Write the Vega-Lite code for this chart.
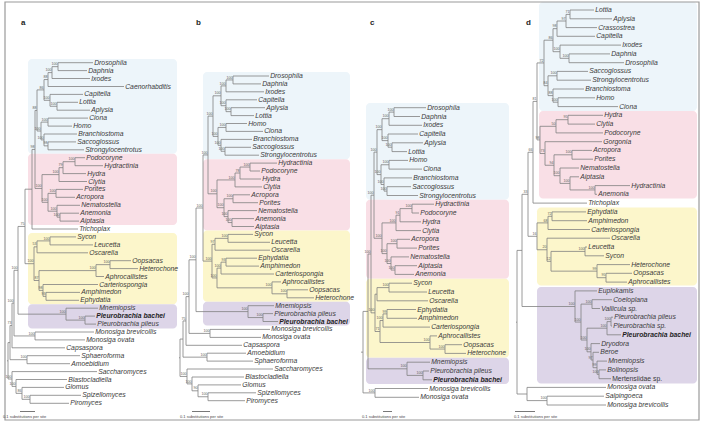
{
"$schema": "https://vega.github.io/schema/vega-lite/v6.json",
"width": 701, "height": 426,
"autosize": {"type": "fit", "contains": "padding"},
"padding": 0,
"background": "white",
"config": {"view": {"stroke": null}, "text": {"font": "Liberation Sans"}},
"datasets": {
"boxes": [
{"x":28,"x2":177,"y":59,"y2":153.7,"c":"Bilateria"},
{"x":28,"x2":177,"y":153.7,"y2":225,"c":"Cnidaria"},
{"x":28,"x2":177,"y":233,"y2":304.2,"c":"Porifera"},
{"x":28,"x2":177,"y":304.2,"y2":328.5,"c":"Ctenophora"},
{"x":203,"x2":350,"y":72,"y2":159.2,"c":"Bilateria"},
{"x":203,"x2":350,"y":159.2,"y2":230.5,"c":"Cnidaria"},
{"x":203,"x2":350,"y":230.5,"y2":301.7,"c":"Porifera"},
{"x":203,"x2":350,"y":301.7,"y2":325.5,"c":"Ctenophora"},
{"x":366,"x2":509,"y":103,"y2":199.8,"c":"Bilateria"},
{"x":366,"x2":509,"y":199.8,"y2":278.8,"c":"Cnidaria"},
{"x":366,"x2":509,"y":278.8,"y2":357.8,"c":"Porifera"},
{"x":366,"x2":509,"y":357.8,"y2":384,"c":"Ctenophora"},
{"x":539,"x2":697,"y":2,"y2":110.9,"c":"Bilateria"},
{"x":539,"x2":697,"y":110.9,"y2":198.5,"c":"Cnidaria"},
{"x":537,"x2":697,"y":207.5,"y2":285.5,"c":"Porifera"},
{"x":537,"x2":697,"y":287,"y2":383.5,"c":"Ctenophora"}
],
"leaves": [
{"n":"Drosophila","y":62.7,"t":93,"p":58},
{"n":"Daphnia","y":70.6,"t":87,"p":58},
{"n":"Ixodes","y":78.5,"t":90,"p":52},
{"n":"Caenorhabditis","y":86.5,"t":124,"p":48},
{"n":"Capitella","y":94.4,"t":83,"p":50},
{"n":"Lottia","y":102.3,"t":78,"p":57},
{"n":"Aplysia","y":110.2,"t":90,"p":57},
{"n":"Ciona","y":118.1,"t":88,"p":48},
{"n":"Homo","y":126.1,"t":72,"p":48},
{"n":"Branchiostoma","y":134.0,"t":77,"p":44},
{"n":"Saccoglossus","y":141.9,"t":76,"p":48},
{"n":"Strongylocentrotus","y":149.8,"t":84,"p":48},
{"n":"Podocoryne","y":157.7,"t":85,"p":75},
{"n":"Hydractinia","y":165.7,"t":103,"p":75},
{"n":"Hydra","y":173.6,"t":86,"p":63},
{"n":"Clytia","y":181.5,"t":87,"p":59},
{"n":"Porites","y":189.4,"t":83,"p":56},
{"n":"Acropora","y":197.3,"t":75,"p":56},
{"n":"Nematostella","y":205.3,"t":80,"p":57},
{"n":"Anemonia","y":213.2,"t":79,"p":60},
{"n":"Aiptasia","y":221.1,"t":79,"p":60},
{"n":"Trichoplax","y":229.0,"t":78,"p":32},
{"n":"Sycon","y":236.9,"t":76,"p":50},
{"n":"Leucetta","y":244.9,"t":93,"p":50},
{"n":"Oscarella","y":252.8,"t":88,"p":37},
{"n":"Oopsacas","y":260.7,"t":131,"p":110},
{"n":"Heterochone","y":268.6,"t":138,"p":110},
{"n":"Aphrocallistes","y":276.5,"t":104,"p":96},
{"n":"Carteriospongia","y":284.5,"t":98,"p":43},
{"n":"Amphimedon","y":292.4,"t":80,"p":46},
{"n":"Ephydatia","y":300.3,"t":79,"p":46},
{"n":"Mnemiopsis","y":308.2,"t":98,"p":66},
{"n":"Pleurobrachia bachei","y":316.1,"t":95,"p":85,"s":"b"},
{"n":"Pleurobrachia pileus","y":324.1,"t":96,"p":85},
{"n":"Monosiga brevicollis","y":332.0,"t":94,"p":35},
{"n":"Monosiga ovata","y":339.9,"t":85,"p":35},
{"n":"Capsaspora","y":347.8,"t":65,"p":12},
{"n":"Sphaeroforma","y":355.7,"t":80,"p":27},
{"n":"Amoebidium","y":363.7,"t":70,"p":27},
{"n":"Saccharomyces","y":371.6,"t":97,"p":12},
{"n":"Blastocladiella","y":379.5,"t":67,"p":16},
{"n":"Glomus","y":387.4,"t":64,"p":22},
{"n":"Spizellomyces","y":395.3,"t":81,"p":30},
{"n":"Piromyces","y":403.3,"t":69,"p":30},
{"n":"Drosophila","y":76.0,"t":269,"p":233},
{"n":"Daphnia","y":83.9,"t":261,"p":233},
{"n":"Ixodes","y":91.8,"t":264,"p":226},
{"n":"Capitella","y":99.8,"t":257,"p":226},
{"n":"Aplysia","y":107.7,"t":265,"p":231},
{"n":"Lottia","y":115.6,"t":254,"p":231},
{"n":"Homo","y":123.5,"t":247,"p":226},
{"n":"Ciona","y":131.4,"t":263,"p":226},
{"n":"Branchiostoma","y":139.4,"t":252,"p":221},
{"n":"Saccoglossus","y":147.3,"t":251,"p":225},
{"n":"Strongylocentrotus","y":155.2,"t":259,"p":225},
{"n":"Hydractinia","y":163.1,"t":277,"p":250},
{"n":"Podocoryne","y":171.0,"t":260,"p":250},
{"n":"Hydra","y":179.0,"t":261,"p":240},
{"n":"Clytia","y":186.9,"t":262,"p":235},
{"n":"Acropora","y":194.8,"t":250,"p":233},
{"n":"Porites","y":202.7,"t":258,"p":233},
{"n":"Nematostella","y":210.6,"t":257,"p":228},
{"n":"Anemonia","y":218.6,"t":254,"p":232},
{"n":"Aiptasia","y":226.5,"t":254,"p":232},
{"n":"Sycon","y":234.4,"t":253,"p":228},
{"n":"Leucetta","y":242.3,"t":270,"p":228},
{"n":"Oscarella","y":250.2,"t":270,"p":215},
{"n":"Ephydatia","y":258.2,"t":257,"p":226},
{"n":"Amphimedon","y":266.1,"t":259,"p":226},
{"n":"Carteriospongia","y":274.0,"t":274,"p":221},
{"n":"Aphrocallistes","y":281.9,"t":281,"p":272},
{"n":"Oopsacas","y":289.8,"t":308,"p":287},
{"n":"Heterochone","y":297.8,"t":314,"p":287},
{"n":"Mnemiopsis","y":305.7,"t":274,"p":248},
{"n":"Pleurobrachia pileus","y":313.6,"t":273,"p":263},
{"n":"Pleurobrachia bachei","y":321.5,"t":278,"p":263,"s":"b"},
{"n":"Monosiga brevicollis","y":329.4,"t":270,"p":210},
{"n":"Monosiga ovata","y":337.4,"t":261,"p":210},
{"n":"Capsaspora","y":345.3,"t":242,"p":186},
{"n":"Amoebidium","y":353.2,"t":246,"p":207},
{"n":"Sphaeroforma","y":361.1,"t":253,"p":207},
{"n":"Saccharomyces","y":369.0,"t":273,"p":187},
{"n":"Blastocladiella","y":377.0,"t":244,"p":192},
{"n":"Glomus","y":384.9,"t":241,"p":198},
{"n":"Spizellomyces","y":392.8,"t":256,"p":208},
{"n":"Piromyces","y":400.7,"t":245,"p":208},
{"n":"Drosophila","y":107.7,"t":426,"p":394},
{"n":"Daphnia","y":116.5,"t":420,"p":394},
{"n":"Ixodes","y":125.3,"t":422,"p":389},
{"n":"Capitella","y":134.0,"t":418,"p":388},
{"n":"Aplysia","y":142.8,"t":423,"p":392},
{"n":"Lottia","y":151.6,"t":407,"p":392},
{"n":"Homo","y":160.4,"t":408,"p":389},
{"n":"Ciona","y":169.1,"t":422,"p":389},
{"n":"Branchiostoma","y":177.9,"t":412,"p":384},
{"n":"Saccoglossus","y":186.7,"t":411,"p":387},
{"n":"Strongylocentrotus","y":195.5,"t":418,"p":387},
{"n":"Hydractinia","y":204.2,"t":434,"p":412},
{"n":"Podocoryne","y":213.0,"t":419,"p":412},
{"n":"Hydra","y":221.8,"t":421,"p":400},
{"n":"Clytia","y":230.6,"t":421,"p":396},
{"n":"Acropora","y":239.3,"t":410,"p":397},
{"n":"Porites","y":248.1,"t":417,"p":397},
{"n":"Nematostella","y":256.9,"t":409,"p":391},
{"n":"Aiptasia","y":265.7,"t":417,"p":395},
{"n":"Anemonia","y":274.4,"t":414,"p":395},
{"n":"Sycon","y":283.2,"t":412,"p":389},
{"n":"Leucetta","y":292.0,"t":427,"p":389},
{"n":"Oscarella","y":300.8,"t":428,"p":377},
{"n":"Ephydatia","y":309.5,"t":416,"p":387},
{"n":"Amphimedon","y":318.3,"t":417,"p":387},
{"n":"Carteriospongia","y":327.1,"t":430,"p":383},
{"n":"Aphrocallistes","y":335.9,"t":437,"p":430},
{"n":"Oopsacas","y":344.7,"t":462,"p":445},
{"n":"Heterochone","y":353.4,"t":466,"p":445},
{"n":"Mnemiopsis","y":362.2,"t":430,"p":407},
{"n":"Pleurobrachia pileus","y":371.0,"t":429,"p":423},
{"n":"Pleurobrachia bachei","y":379.8,"t":432,"p":423,"s":"b"},
{"n":"Monosiga brevicollis","y":388.5,"t":428,"p":375},
{"n":"Monosiga ovata","y":397.3,"t":419,"p":375},
{"n":"Lottia","y":10.0,"t":594,"p":570},
{"n":"Aplysia","y":18.8,"t":612,"p":570},
{"n":"Crassostrea","y":27.6,"t":597,"p":566},
{"n":"Capitella","y":36.3,"t":595,"p":557},
{"n":"Ixodes","y":45.1,"t":621,"p":560},
{"n":"Daphnia","y":53.9,"t":610,"p":569},
{"n":"Drosophila","y":62.7,"t":624,"p":569},
{"n":"Saccoglossus","y":71.4,"t":588,"p":557},
{"n":"Strongylocentrotus","y":80.2,"t":591,"p":557},
{"n":"Branchiostoma","y":89.0,"t":584,"p":553},
{"n":"Homo","y":97.8,"t":595,"p":558},
{"n":"Ciona","y":106.6,"t":618,"p":558},
{"n":"Hydra","y":115.3,"t":603,"p":568},
{"n":"Clytia","y":124.1,"t":595,"p":568},
{"n":"Podocoryne","y":132.9,"t":603,"p":556},
{"n":"Gorgonia","y":141.7,"t":602,"p":545},
{"n":"Acropora","y":150.4,"t":592,"p":572},
{"n":"Porites","y":159.2,"t":593,"p":572},
{"n":"Nematostella","y":168.0,"t":579,"p":560},
{"n":"Aiptasia","y":176.8,"t":579,"p":570},
{"n":"Hydractinia","y":185.6,"t":630,"p":595},
{"n":"Anemonia","y":194.3,"t":597,"p":595},
{"n":"Trichoplax","y":203.1,"t":587,"p":533},
{"n":"Ephydatia","y":211.9,"t":586,"p":552},
{"n":"Amphimedon","y":220.7,"t":587,"p":552},
{"n":"Carteriospongia","y":229.5,"t":590,"p":548},
{"n":"Oscarella","y":238.2,"t":610,"p":547},
{"n":"Leucetta","y":247.0,"t":587,"p":585},
{"n":"Sycon","y":255.8,"t":604,"p":585},
{"n":"Heterochone","y":264.6,"t":630,"p":597},
{"n":"Oopsacas","y":273.3,"t":632,"p":606},
{"n":"Aphrocallistes","y":282.1,"t":627,"p":606},
{"n":"Euplokamis","y":290.9,"t":597,"p":575},
{"n":"Coeloplana","y":299.7,"t":612,"p":592},
{"n":"Vallicula sp.","y":308.5,"t":600,"p":592},
{"n":"Pleurobrachia pileus","y":317.2,"t":613,"p":611},
{"n":"Pleurobrachia sp.","y":326.0,"t":612,"p":611},
{"n":"Pleurobrachia bachei","y":334.8,"t":621,"p":607,"s":"b"},
{"n":"Dryodora","y":343.6,"t":600,"p":591},
{"n":"Beroe","y":352.3,"t":599,"p":593},
{"n":"Mnemiopsis","y":361.1,"t":607,"p":597},
{"n":"Bolinopsis","y":369.9,"t":606,"p":599},
{"n":"Mertensiidae sp.","y":378.7,"t":611,"p":599,"s":"n"},
{"n":"Monosiga ovata","y":387.4,"t":606,"p":527},
{"n":"Salpingoeca","y":396.2,"t":604,"p":547},
{"n":"Monosiga brevicollis","y":405.0,"t":606,"p":547}
],
"nodes": [
{"x":58,"y":66.65,"p":52,"a":62.7,"z":70.6,"b":"100"},
{"x":52,"y":72.6,"p":48,"a":66.65,"z":78.5,"b":"100"},
{"x":48,"y":79.55,"p":44,"a":72.6,"z":86.5,"b":"88"},
{"x":57,"y":106.25,"p":50,"a":102.3,"z":110.2,"b":"100"},
{"x":50,"y":100.3,"p":44,"a":94.4,"z":106.25,"b":"100"},
{"x":44,"y":89.9,"p":37,"a":79.55,"z":100.3,"b":"86"},
{"x":48,"y":122.1,"p":41,"a":118.1,"z":126.1,"b":"100"},
{"x":48,"y":145.85,"p":44,"a":141.9,"z":149.8,"b":"98"},
{"x":44,"y":139.9,"p":41,"a":134.0,"z":145.85,"b":"100"},
{"x":41,"y":131.0,"p":37,"a":122.1,"z":139.9,"b":"100"},
{"x":37,"y":110.45,"p":35,"a":89.9,"z":131.0,"b":"88"},
{"x":75,"y":161.7,"p":63,"a":157.7,"z":165.7,"b":"100"},
{"x":63,"y":167.65,"p":59,"a":161.7,"z":173.6,"b":"79"},
{"x":59,"y":174.6,"p":42,"a":167.65,"z":181.5,"b":"100"},
{"x":56,"y":193.35,"p":48,"a":189.4,"z":197.3,"b":"100"},
{"x":60,"y":217.15,"p":57,"a":213.2,"z":221.1,"b":"100"},
{"x":57,"y":211.2,"p":48,"a":205.3,"z":217.15,"b":"100"},
{"x":48,"y":202.3,"p":42,"a":193.35,"z":211.2,"b":"100"},
{"x":42,"y":188.45,"p":35,"a":174.6,"z":202.3,"b":"100"},
{"x":35,"y":149.45,"p":32,"a":110.45,"z":188.45,"b":"98"},
{"x":32,"y":189.2,"p":25,"a":149.45,"z":229.0,"b":""},
{"x":50,"y":240.9,"p":37,"a":236.9,"z":244.9,"b":"100"},
{"x":37,"y":246.85,"p":34,"a":240.9,"z":252.8,"b":"53"},
{"x":110,"y":264.65,"p":96,"a":260.7,"z":268.6,"b":"100"},
{"x":96,"y":270.6,"p":39,"a":264.65,"z":276.5,"b":"100"},
{"x":46,"y":296.35,"p":43,"a":292.4,"z":300.3,"b":"93"},
{"x":43,"y":290.4,"p":39,"a":284.5,"z":296.35,"b":"98"},
{"x":39,"y":280.5,"p":34,"a":270.6,"z":290.4,"b":"87"},
{"x":34,"y":263.7,"p":25,"a":246.85,"z":280.5,"b":"100"},
{"x":25,"y":226.45,"p":18,"a":189.2,"z":263.7,"b":"75"},
{"x":85,"y":320.1,"p":66,"a":316.1,"z":324.1,"b":"100"},
{"x":66,"y":314.15,"p":18,"a":308.2,"z":320.1,"b":"100"},
{"x":18,"y":270.3,"p":14,"a":226.45,"z":314.15,"b":"100"},
{"x":35,"y":335.95,"p":14,"a":332.0,"z":339.9,"b":"100"},
{"x":14,"y":303.1,"p":12,"a":270.3,"z":335.95,"b":"100"},
{"x":12,"y":325.45,"p":10,"a":303.1,"z":347.8,"b":"73"},
{"x":27,"y":359.7,"p":10,"a":355.7,"z":363.7,"b":"100"},
{"x":10,"y":342.6,"p":8,"a":325.45,"z":359.7,"b":""},
{"x":30,"y":399.3,"p":22,"a":395.3,"z":403.3,"b":"100"},
{"x":22,"y":393.35,"p":16,"a":387.4,"z":399.3,"b":"86"},
{"x":16,"y":386.4,"p":12,"a":379.5,"z":393.35,"b":"100"},
{"x":12,"y":379.0,"p":8,"a":371.6,"z":386.4,"b":"100"},
{"x":8,"y":360.8,"p":7,"a":342.6,"z":379.0,"b":""},
{"x":233,"y":79.95,"p":226,"a":76.0,"z":83.9,"b":"100"},
{"x":226,"y":85.9,"p":221,"a":79.95,"z":91.8,"b":"100"},
{"x":231,"y":111.65,"p":226,"a":107.7,"z":115.6,"b":"100"},
{"x":226,"y":105.7,"p":221,"a":99.8,"z":111.65,"b":"100"},
{"x":221,"y":95.8,"p":213,"a":85.9,"z":105.7,"b":"100"},
{"x":226,"y":127.45,"p":218,"a":123.5,"z":131.4,"b":"100"},
{"x":225,"y":151.25,"p":221,"a":147.3,"z":155.2,"b":"100"},
{"x":221,"y":145.3,"p":218,"a":139.4,"z":151.25,"b":"100"},
{"x":218,"y":136.4,"p":213,"a":127.45,"z":145.3,"b":"100"},
{"x":213,"y":116.1,"p":208,"a":95.8,"z":136.4,"b":"100"},
{"x":250,"y":167.05,"p":240,"a":163.1,"z":171.0,"b":"100"},
{"x":240,"y":173.0,"p":235,"a":167.05,"z":179.0,"b":"78"},
{"x":235,"y":179.95,"p":217,"a":173.0,"z":186.9,"b":"100"},
{"x":233,"y":198.75,"p":224,"a":194.8,"z":202.7,"b":"100"},
{"x":232,"y":222.55,"p":228,"a":218.6,"z":226.5,"b":"100"},
{"x":228,"y":216.6,"p":224,"a":210.6,"z":222.55,"b":"100"},
{"x":224,"y":207.7,"p":217,"a":198.75,"z":216.6,"b":"100"},
{"x":217,"y":193.8,"p":208,"a":179.95,"z":207.7,"b":"100"},
{"x":208,"y":154.95,"p":203,"a":116.1,"z":193.8,"b":"100"},
{"x":228,"y":238.35,"p":215,"a":234.4,"z":242.3,"b":"100"},
{"x":215,"y":244.3,"p":212,"a":238.35,"z":250.2,"b":"97"},
{"x":226,"y":262.15,"p":221,"a":258.2,"z":266.1,"b":"93"},
{"x":221,"y":268.1,"p":217,"a":262.15,"z":274.0,"b":"100"},
{"x":287,"y":293.8,"p":272,"a":289.8,"z":297.8,"b":"100"},
{"x":272,"y":287.85,"p":217,"a":281.9,"z":293.8,"b":"100"},
{"x":217,"y":277.95,"p":212,"a":268.1,"z":287.85,"b":"100"},
{"x":212,"y":261.1,"p":203,"a":244.3,"z":277.95,"b":"100"},
{"x":203,"y":208.0,"p":196,"a":154.95,"z":261.1,"b":"100"},
{"x":263,"y":317.55,"p":248,"a":313.6,"z":321.5,"b":"100"},
{"x":248,"y":311.6,"p":196,"a":305.7,"z":317.55,"b":"100"},
{"x":196,"y":259.8,"p":189,"a":208.0,"z":311.6,"b":"100"},
{"x":210,"y":333.4,"p":189,"a":329.4,"z":337.4,"b":"100"},
{"x":189,"y":296.6,"p":186,"a":259.8,"z":333.4,"b":"100"},
{"x":186,"y":320.95,"p":183,"a":296.6,"z":345.3,"b":"75"},
{"x":207,"y":357.15,"p":183,"a":353.2,"z":361.1,"b":"100"},
{"x":183,"y":339.05,"p":180,"a":320.95,"z":357.15,"b":""},
{"x":208,"y":396.75,"p":198,"a":392.8,"z":400.7,"b":"100"},
{"x":198,"y":390.8,"p":192,"a":384.9,"z":396.75,"b":"90"},
{"x":192,"y":383.9,"p":187,"a":377.0,"z":390.8,"b":"100"},
{"x":187,"y":376.45,"p":180,"a":369.0,"z":383.9,"b":"100"},
{"x":180,"y":357.75,"p":179,"a":339.05,"z":376.45,"b":""},
{"x":394,"y":112.1,"p":389,"a":107.7,"z":116.5,"b":"100"},
{"x":389,"y":118.7,"p":382,"a":112.1,"z":125.3,"b":"100"},
{"x":392,"y":147.2,"p":388,"a":142.8,"z":151.6,"b":"100"},
{"x":388,"y":140.6,"p":382,"a":134.0,"z":147.2,"b":"100"},
{"x":382,"y":129.65,"p":377,"a":118.7,"z":140.6,"b":"100"},
{"x":389,"y":164.75,"p":381,"a":160.4,"z":169.1,"b":"100"},
{"x":387,"y":191.1,"p":384,"a":186.7,"z":195.5,"b":"100"},
{"x":384,"y":184.5,"p":381,"a":177.9,"z":191.1,"b":"100"},
{"x":381,"y":174.6,"p":377,"a":164.75,"z":184.5,"b":"100"},
{"x":377,"y":152.1,"p":374,"a":129.65,"z":174.6,"b":"100"},
{"x":412,"y":208.6,"p":400,"a":204.2,"z":213.0,"b":"100"},
{"x":400,"y":215.2,"p":396,"a":208.6,"z":221.8,"b":"91"},
{"x":396,"y":222.9,"p":382,"a":215.2,"z":230.6,"b":"100"},
{"x":397,"y":243.7,"p":387,"a":239.3,"z":248.1,"b":"100"},
{"x":395,"y":270.05,"p":391,"a":265.7,"z":274.4,"b":"100"},
{"x":391,"y":263.5,"p":387,"a":256.9,"z":270.05,"b":"100"},
{"x":387,"y":253.6,"p":382,"a":243.7,"z":263.5,"b":"100"},
{"x":382,"y":238.25,"p":374,"a":222.9,"z":253.6,"b":"100"},
{"x":374,"y":195.2,"p":371,"a":152.1,"z":238.25,"b":"100"},
{"x":389,"y":287.6,"p":377,"a":283.2,"z":292.0,"b":"100"},
{"x":377,"y":294.2,"p":375,"a":287.6,"z":300.8,"b":""},
{"x":387,"y":313.9,"p":383,"a":309.5,"z":318.3,"b":"99"},
{"x":383,"y":320.5,"p":380,"a":313.9,"z":327.1,"b":"100"},
{"x":445,"y":349.05,"p":430,"a":344.7,"z":353.4,"b":"100"},
{"x":430,"y":342.5,"p":380,"a":335.9,"z":349.05,"b":"100"},
{"x":380,"y":331.5,"p":375,"a":320.5,"z":342.5,"b":"71"},
{"x":375,"y":312.85,"p":371,"a":294.2,"z":331.5,"b":"100"},
{"x":371,"y":254.0,"p":368,"a":195.2,"z":312.85,"b":"100"},
{"x":423,"y":375.4,"p":407,"a":371.0,"z":379.8,"b":"100"},
{"x":407,"y":368.8,"p":368,"a":362.2,"z":375.4,"b":"100"},
{"x":368,"y":311.4,"p":363,"a":254.0,"z":368.8,"b":""},
{"x":375,"y":392.9,"p":363,"a":388.5,"z":397.3,"b":"100"},
{"x":363,"y":352.15,"p":361,"a":311.4,"z":392.9,"b":""},
{"x":570,"y":14.4,"p":566,"a":10.0,"z":18.8,"b":"71"},
{"x":566,"y":21.0,"p":557,"a":14.4,"z":27.6,"b":"97"},
{"x":557,"y":28.65,"p":553,"a":21.0,"z":36.3,"b":"98"},
{"x":569,"y":58.3,"p":560,"a":53.9,"z":62.7,"b":"100"},
{"x":560,"y":51.7,"p":553,"a":45.1,"z":58.3,"b":"100"},
{"x":553,"y":40.2,"p":544,"a":28.65,"z":51.7,"b":"86"},
{"x":557,"y":75.8,"p":548,"a":71.4,"z":80.2,"b":"100"},
{"x":558,"y":102.2,"p":553,"a":97.8,"z":106.6,"b":"100"},
{"x":553,"y":95.6,"p":548,"a":89.0,"z":102.2,"b":"88"},
{"x":548,"y":85.7,"p":544,"a":75.8,"z":95.6,"b":"84"},
{"x":544,"y":62.95,"p":537,"a":40.2,"z":85.7,"b":"72"},
{"x":568,"y":119.7,"p":556,"a":115.3,"z":124.1,"b":"95"},
{"x":556,"y":126.3,"p":540,"a":119.7,"z":132.9,"b":"50"},
{"x":572,"y":154.8,"p":554,"a":150.4,"z":159.2,"b":"100"},
{"x":595,"y":189.95,"p":570,"a":185.6,"z":194.3,"b":"100"},
{"x":570,"y":183.4,"p":560,"a":176.8,"z":189.95,"b":"100"},
{"x":560,"y":175.7,"p":554,"a":168.0,"z":183.4,"b":"100"},
{"x":554,"y":165.25,"p":545,"a":154.8,"z":175.7,"b":"94"},
{"x":545,"y":153.5,"p":540,"a":141.7,"z":165.25,"b":"73"},
{"x":540,"y":139.9,"p":537,"a":126.3,"z":153.5,"b":"98"},
{"x":537,"y":101.4,"p":533,"a":62.95,"z":139.9,"b":"81"},
{"x":533,"y":152.25,"p":528,"a":101.4,"z":203.1,"b":"66"},
{"x":552,"y":216.3,"p":548,"a":211.9,"z":220.7,"b":"72"},
{"x":548,"y":222.9,"p":537,"a":216.3,"z":229.5,"b":"68"},
{"x":585,"y":251.4,"p":551,"a":247.0,"z":255.8,"b":"100"},
{"x":606,"y":277.7,"p":597,"a":273.3,"z":282.1,"b":"95"},
{"x":597,"y":271.15,"p":551,"a":264.6,"z":277.7,"b":"99"},
{"x":551,"y":261.3,"p":547,"a":251.4,"z":271.15,"b":"12"},
{"x":547,"y":249.75,"p":537,"a":238.2,"z":261.3,"b":"20"},
{"x":537,"y":236.3,"p":528,"a":222.9,"z":249.75,"b":"16"},
{"x":528,"y":194.3,"p":522,"a":152.25,"z":236.3,"b":"33"},
{"x":592,"y":304.1,"p":581,"a":299.7,"z":308.5,"b":"100"},
{"x":611,"y":321.6,"p":607,"a":317.2,"z":326.0,"b":"100"},
{"x":607,"y":328.2,"p":587,"a":321.6,"z":334.8,"b":"100"},
{"x":599,"y":374.3,"p":597,"a":369.9,"z":378.7,"b":"100"},
{"x":597,"y":367.7,"p":593,"a":361.1,"z":374.3,"b":"99"},
{"x":593,"y":360.0,"p":591,"a":352.3,"z":367.7,"b":"97"},
{"x":591,"y":351.8,"p":587,"a":343.6,"z":360.0,"b":"100"},
{"x":587,"y":340.0,"p":581,"a":328.2,"z":351.8,"b":"100"},
{"x":581,"y":322.05,"p":575,"a":304.1,"z":340.0,"b":"100"},
{"x":575,"y":306.5,"p":522,"a":290.9,"z":322.05,"b":"100"},
{"x":522,"y":250.4,"p":517,"a":194.3,"z":306.5,"b":""},
{"x":547,"y":400.6,"p":527,"a":396.2,"z":405.0,"b":"100"},
{"x":527,"y":394.0,"p":517,"a":387.4,"z":400.6,"b":""},
{"x":517,"y":322.2,"p":516,"a":250.4,"z":394.0,"b":""}
],
"letters": [
{"x":21,"y":22.5,"t":"a"},
{"x":196,"y":22.5,"t":"b"},
{"x":370,"y":22.5,"t":"c"},
{"x":526,"y":22.5,"t":"d"}
],
"bars": [
{"x":20,"x2":35,"y":411.5,"tx":3},
{"x":192,"x2":210,"y":411.5,"tx":180},
{"x":383,"x2":392,"y":411.5,"tx":362},
{"x":515,"x2":535,"y":411.5,"tx":514}
]
},
"layer": [
{"data": {"name": "boxes"}, "mark": {"type": "rect", "cornerRadius": 4},
 "encoding": {
  "x": {"field": "x", "type": "quantitative", "scale": {"domain": [0, 701], "nice": false, "zero": false}, "axis": null},
  "x2": {"field": "x2"},
  "y": {"field": "y", "type": "quantitative", "scale": {"domain": [0, 426], "nice": false, "zero": false, "reverse": true}, "axis": null},
  "y2": {"field": "y2"},
  "color": {"field": "c", "type": "nominal", "scale": {"domain": ["Bilateria", "Cnidaria", "Porifera", "Ctenophora"], "range": ["#edf5fa", "#f9dfe6", "#fcf6cb", "#ddd5e8"]}, "legend": null}
 }},
{"data": {"values": [{"x": 5, "x2": 699, "y": 2, "y2": 420}]}, "mark": {"type": "rect", "fill": null, "fillOpacity": 0, "stroke": "#9a9a9a", "strokeWidth": 1.2},
 "encoding": {
  "x": {"field": "x", "type": "quantitative", "scale": {"domain": [0, 701], "nice": false, "zero": false}, "axis": null},
  "x2": {"field": "x2"},
  "y": {"field": "y", "type": "quantitative", "scale": {"domain": [0, 426], "nice": false, "zero": false, "reverse": true}, "axis": null},
  "y2": {"field": "y2"}
 }},
{"data": {"name": "nodes"}, "mark": {"type": "rule", "stroke": "#808080", "strokeWidth": 0.8},
 "encoding": {
  "x": {"field": "p", "type": "quantitative", "scale": {"domain": [0, 701], "nice": false, "zero": false}, "axis": null},
  "x2": {"field": "x"},
  "y": {"field": "y", "type": "quantitative", "scale": {"domain": [0, 426], "nice": false, "zero": false, "reverse": true}, "axis": null}
 }},
{"data": {"name": "nodes"}, "mark": {"type": "rule", "stroke": "#808080", "strokeWidth": 0.8},
 "encoding": {
  "x": {"field": "x", "type": "quantitative", "scale": {"domain": [0, 701], "nice": false, "zero": false}, "axis": null},
  "y": {"field": "a", "type": "quantitative", "scale": {"domain": [0, 426], "nice": false, "zero": false, "reverse": true}, "axis": null},
  "y2": {"field": "z"}
 }},
{"data": {"name": "leaves"}, "mark": {"type": "rule", "stroke": "#808080", "strokeWidth": 0.8},
 "encoding": {
  "x": {"field": "p", "type": "quantitative", "scale": {"domain": [0, 701], "nice": false, "zero": false}, "axis": null},
  "x2": {"field": "t"},
  "y": {"field": "y", "type": "quantitative", "scale": {"domain": [0, 426], "nice": false, "zero": false, "reverse": true}, "axis": null}
 }},
{"data": {"name": "leaves"}, "transform": [{"filter": "!datum.s"}],
 "mark": {"type": "text", "align": "left", "baseline": "middle", "dx": 1.2, "fontSize": 6.8, "fontStyle": "italic", "fill": "#3a3a3a"},
 "encoding": {
  "x": {"field": "t", "type": "quantitative", "scale": {"domain": [0, 701], "nice": false, "zero": false}, "axis": null},
  "y": {"field": "y", "type": "quantitative", "scale": {"domain": [0, 426], "nice": false, "zero": false, "reverse": true}, "axis": null},
  "text": {"field": "n"}
 }},
{"data": {"name": "leaves"}, "transform": [{"filter": "datum.s == 'b'"}],
 "mark": {"type": "text", "align": "left", "baseline": "middle", "dx": 1.2, "fontSize": 6.8, "fontStyle": "italic", "fontWeight": "bold", "fill": "#1e1e1e"},
 "encoding": {
  "x": {"field": "t", "type": "quantitative", "scale": {"domain": [0, 701], "nice": false, "zero": false}, "axis": null},
  "y": {"field": "y", "type": "quantitative", "scale": {"domain": [0, 426], "nice": false, "zero": false, "reverse": true}, "axis": null},
  "text": {"field": "n"}
 }},
{"data": {"name": "leaves"}, "transform": [{"filter": "datum.s == 'n'"}],
 "mark": {"type": "text", "align": "left", "baseline": "middle", "dx": 1.2, "fontSize": 6.8, "fill": "#3a3a3a"},
 "encoding": {
  "x": {"field": "t", "type": "quantitative", "scale": {"domain": [0, 701], "nice": false, "zero": false}, "axis": null},
  "y": {"field": "y", "type": "quantitative", "scale": {"domain": [0, 426], "nice": false, "zero": false, "reverse": true}, "axis": null},
  "text": {"field": "n"}
 }},
{"data": {"name": "nodes"}, "transform": [{"filter": "datum.b != ''"}],
 "mark": {"type": "text", "align": "right", "baseline": "bottom", "dx": -0.6, "dy": -0.4, "fontSize": 3.6, "fill": "#606060"},
 "encoding": {
  "x": {"field": "x", "type": "quantitative", "scale": {"domain": [0, 701], "nice": false, "zero": false}, "axis": null},
  "y": {"field": "y", "type": "quantitative", "scale": {"domain": [0, 426], "nice": false, "zero": false, "reverse": true}, "axis": null},
  "text": {"field": "b"}
 }},
{"data": {"name": "letters"},
 "mark": {"type": "text", "align": "left", "baseline": "middle", "fontSize": 8, "fontWeight": "bold", "fill": "#1e1e1e"},
 "encoding": {
  "x": {"field": "x", "type": "quantitative", "scale": {"domain": [0, 701], "nice": false, "zero": false}, "axis": null},
  "y": {"field": "y", "type": "quantitative", "scale": {"domain": [0, 426], "nice": false, "zero": false, "reverse": true}, "axis": null},
  "text": {"field": "t"}
 }},
{"data": {"name": "bars"}, "mark": {"type": "rule", "stroke": "#555555", "strokeWidth": 0.8},
 "encoding": {
  "x": {"field": "x", "type": "quantitative", "scale": {"domain": [0, 701], "nice": false, "zero": false}, "axis": null},
  "x2": {"field": "x2"},
  "y": {"field": "y", "type": "quantitative", "scale": {"domain": [0, 426], "nice": false, "zero": false, "reverse": true}, "axis": null}
 }},
{"data": {"name": "bars"},
 "mark": {"type": "text", "align": "left", "baseline": "middle", "dy": 5.2, "fontSize": 4, "fill": "#444444", "text": "0.1 substitutions per site"},
 "encoding": {
  "x": {"field": "tx", "type": "quantitative", "scale": {"domain": [0, 701], "nice": false, "zero": false}, "axis": null},
  "y": {"field": "y", "type": "quantitative", "scale": {"domain": [0, 426], "nice": false, "zero": false, "reverse": true}, "axis": null}
 }}
]
}
